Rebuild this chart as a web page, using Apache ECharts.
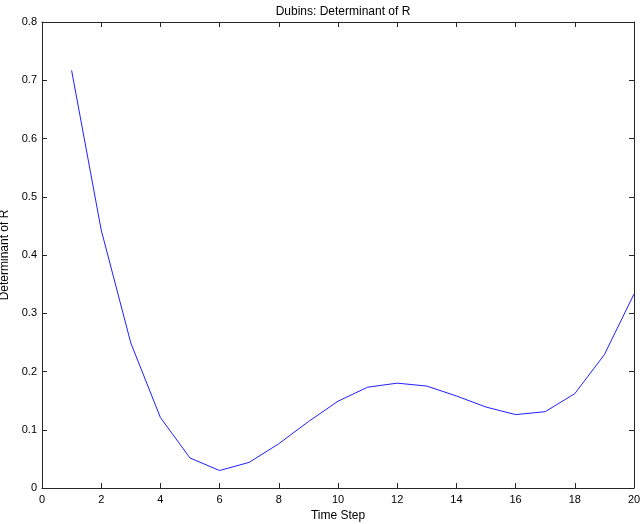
<!DOCTYPE html>
<html>
<head>
<meta charset="utf-8">
<script src="https://cdn.jsdelivr.net/npm/echarts@6/dist/echarts.min.js"></script>
<style>html,body{margin:0;padding:0;background:#fff;}#c{width:640px;height:524px;}</style>
</head>
<body>
<div id="c"></div>
<script>
const timeSteps = [1,2,3,4,5,6,7,8,9,10,11,12,13,14,15,16,17,18,19,20];
const detR = [0.717,0.443,0.249,0.121,0.0515,0.030,0.044,0.076,0.114,0.149,0.173,0.180,0.175,0.158,0.139,0.126,0.131,0.162,0.229,0.333];
const xTicks = [0,2,4,6,8,10,12,14,16,18,20];
const yTicks = [0,0.1,0.2,0.3,0.4,0.5,0.6,0.7,0.8];

const font = 'Liberation Sans, Arial, sans-serif';
const axisColor = '#262626';
const chart = echarts.init(document.getElementById('c'));
const baseAxisLine = {show:true, onZero:false, lineStyle:{color:axisColor, width:1}};
const tick = {show:true, inside:true, length:5, lineStyle:{color:axisColor}};
chart.setOption({
  animation:false,
  backgroundColor:'#fff',
  title:{text:'Dubins: Determinant of R', left:338, textAlign:'center', top:1,
    textStyle:{fontFamily:font, fontSize:12, fontWeight:'normal', color:'#000'}},
  grid:{left:42, right:6, top:22, bottom:36, containLabel:false, outerBoundsMode:'none'},
  xAxis:[{
    type:'value', min:xTicks[0], max:xTicks[xTicks.length-1], interval:2,
    name:'Time Step', nameLocation:'middle', nameGap:22,
    nameTextStyle:{fontFamily:font, fontSize:12, color:'#000'},
    axisLine:baseAxisLine, axisTick:tick,
    axisLabel:{fontFamily:font, fontSize:11, color:'#000', margin:6, showMaxLabel:true, hideOverlap:false},
    splitLine:{show:false}
  },{
    type:'value', position:'top', min:xTicks[0], max:xTicks[xTicks.length-1], interval:2,
    axisLine:baseAxisLine, axisTick:tick,
    axisLabel:{show:false}, splitLine:{show:false}
  }],
  yAxis:[{
    type:'value', min:yTicks[0], max:yTicks[yTicks.length-1], interval:0.1,
    name:'Determinant of R', nameLocation:'middle', nameGap:30, nameRotate:90,
    nameTextStyle:{fontFamily:font, fontSize:12, color:'#000'},
    axisLine:baseAxisLine, axisTick:tick,
    axisLabel:{fontFamily:font, fontSize:11, color:'#000', margin:5,
      formatter:v=>v===0?'0':String(Math.round(v*10)/10)},
    splitLine:{show:false}
  },{
    type:'value', position:'right', min:yTicks[0], max:yTicks[yTicks.length-1], interval:0.1,
    axisLine:baseAxisLine, axisTick:tick,
    axisLabel:{show:false}, splitLine:{show:false}
  }],
  series:[{
    type:'line', xAxisIndex:0, yAxisIndex:0,
    data: timeSteps.map((t,i)=>[t, detR[i]]),
    showSymbol:false, smooth:false,
    lineStyle:{color:'#1f1fff', width:1}
  }]
});
</script>
</body>
</html>
